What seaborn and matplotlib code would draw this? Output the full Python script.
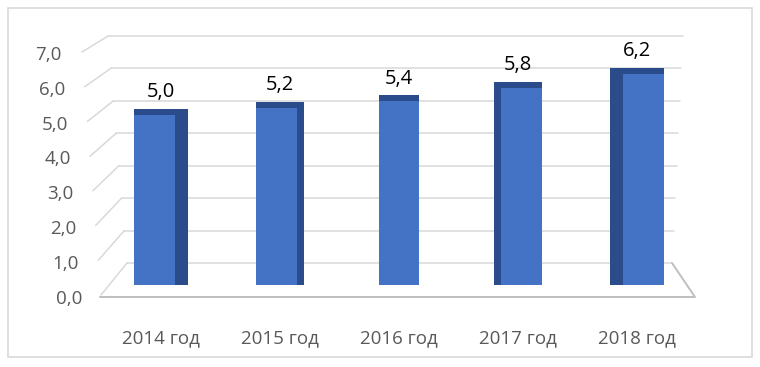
import matplotlib
matplotlib.use("Agg")
import matplotlib.pyplot as plt
import matplotlib.transforms as mtransforms
from matplotlib.patches import Rectangle
import seaborn as sns

# data
years = ["2014 год", "2015 год", "2016 год", "2017 год", "2018 год"]
values = [5.0, 5.2, 5.4, 5.8, 6.2]
value_labels = ["5,0", "5,2", "5,4", "5,8", "6,2"]
y_ticks = [0, 1, 2, 3, 4, 5, 6, 7]
y_tick_labels = ["0,0", "1,0", "2,0", "3,0", "4,0", "5,0", "6,0", "7,0"]

W, H = 760, 367
FRONT = "#4472C4"
DARK = "#2B4C8A"
GRID = "#D9D9D9"
TXT = "#595959"

sns.set_theme(style="white")
plt.rcParams["font.family"] = ["Open Sans", "DejaVu Sans"]

fig = plt.figure(figsize=(W / 100, H / 100), dpi=100)


def fx(px):
    return px / W


def fy(py):
    return 1 - py / H


# overlay in pixel coords for the fake 3D wall / floor
bg = fig.add_axes([0, 0, 1, 1], zorder=0)
bg.set_xlim(0, W)
bg.set_ylim(H, 0)
bg.axis("off")
bg.add_patch(Rectangle((8, 8), 744, 349, fill=False, ec=GRID, lw=1.2))

for v in y_ticks:
    yb = 263 - v * 227 / 7
    left = 127 - v / 7 * 19
    right = 672 + v / 7 * 11
    dy = 32 - v / 7 * 16
    bg.plot([left, right], [yb, yb], color=GRID, lw=1.1)
    bg.plot([left - 26, left], [yb + dy, yb], color=GRID, lw=1.1)

# floor front edge
bg.plot([100, 695, 672], [297, 297, 263], color="#BFBFBF", lw=1.4)

# bars
ax = fig.add_axes([fx(101.5), fy(285), 595 / W, 238 / H], zorder=2)
ax.patch.set_alpha(0)

bar_w = 0.34
cap = 0.18
side = [0.11, 0.055, 0.0, -0.055, -0.11]

ax.bar(range(len(years)), [v + cap for v in values],
       width=[bar_w + abs(s) for s in side], color=DARK, lw=0, zorder=2)
sns.barplot(x=years, y=values, color=FRONT, saturation=1, width=bar_w,
            linewidth=0, edgecolor=FRONT, ax=ax, zorder=3)
for p, s in zip(ax.patches[len(years):], side):
    p.set_x(p.get_x() - s / 2)

for i, (v, lbl) in enumerate(zip(values, value_labels)):
    ax.annotate(lbl, (i, v + cap), xytext=(0, 12), textcoords="offset points",
                ha="center", va="center", fontsize=14.5, color="black")

ax.set_xlim(-0.5, len(years) - 0.5)
ax.set_ylim(0, 7)
ax.set_xlabel("")
ax.set_ylabel("")
ax.set_yticks(y_ticks)
ax.set_yticklabels(y_tick_labels)
ax.tick_params(axis="both", length=0, labelsize=13.5, labelcolor=TXT)
ax.tick_params(axis="x", pad=32)
ax.tick_params(axis="y", pad=0)
sns.despine(ax=ax, left=True, bottom=True)

# shift y labels to sit on the front edge of the perspective
for v, lab in zip(y_ticks, ax.get_yticklabels()):
    dx = -(39.5 - (7 - v) / 7 * 20) / 100
    dy = -(12 - 0.9 * v) / 100
    lab.set_transform(lab.get_transform() +
                      mtransforms.ScaledTranslation(dx, dy, fig.dpi_scale_trans))

fig.savefig("out.png", dpi=100)
